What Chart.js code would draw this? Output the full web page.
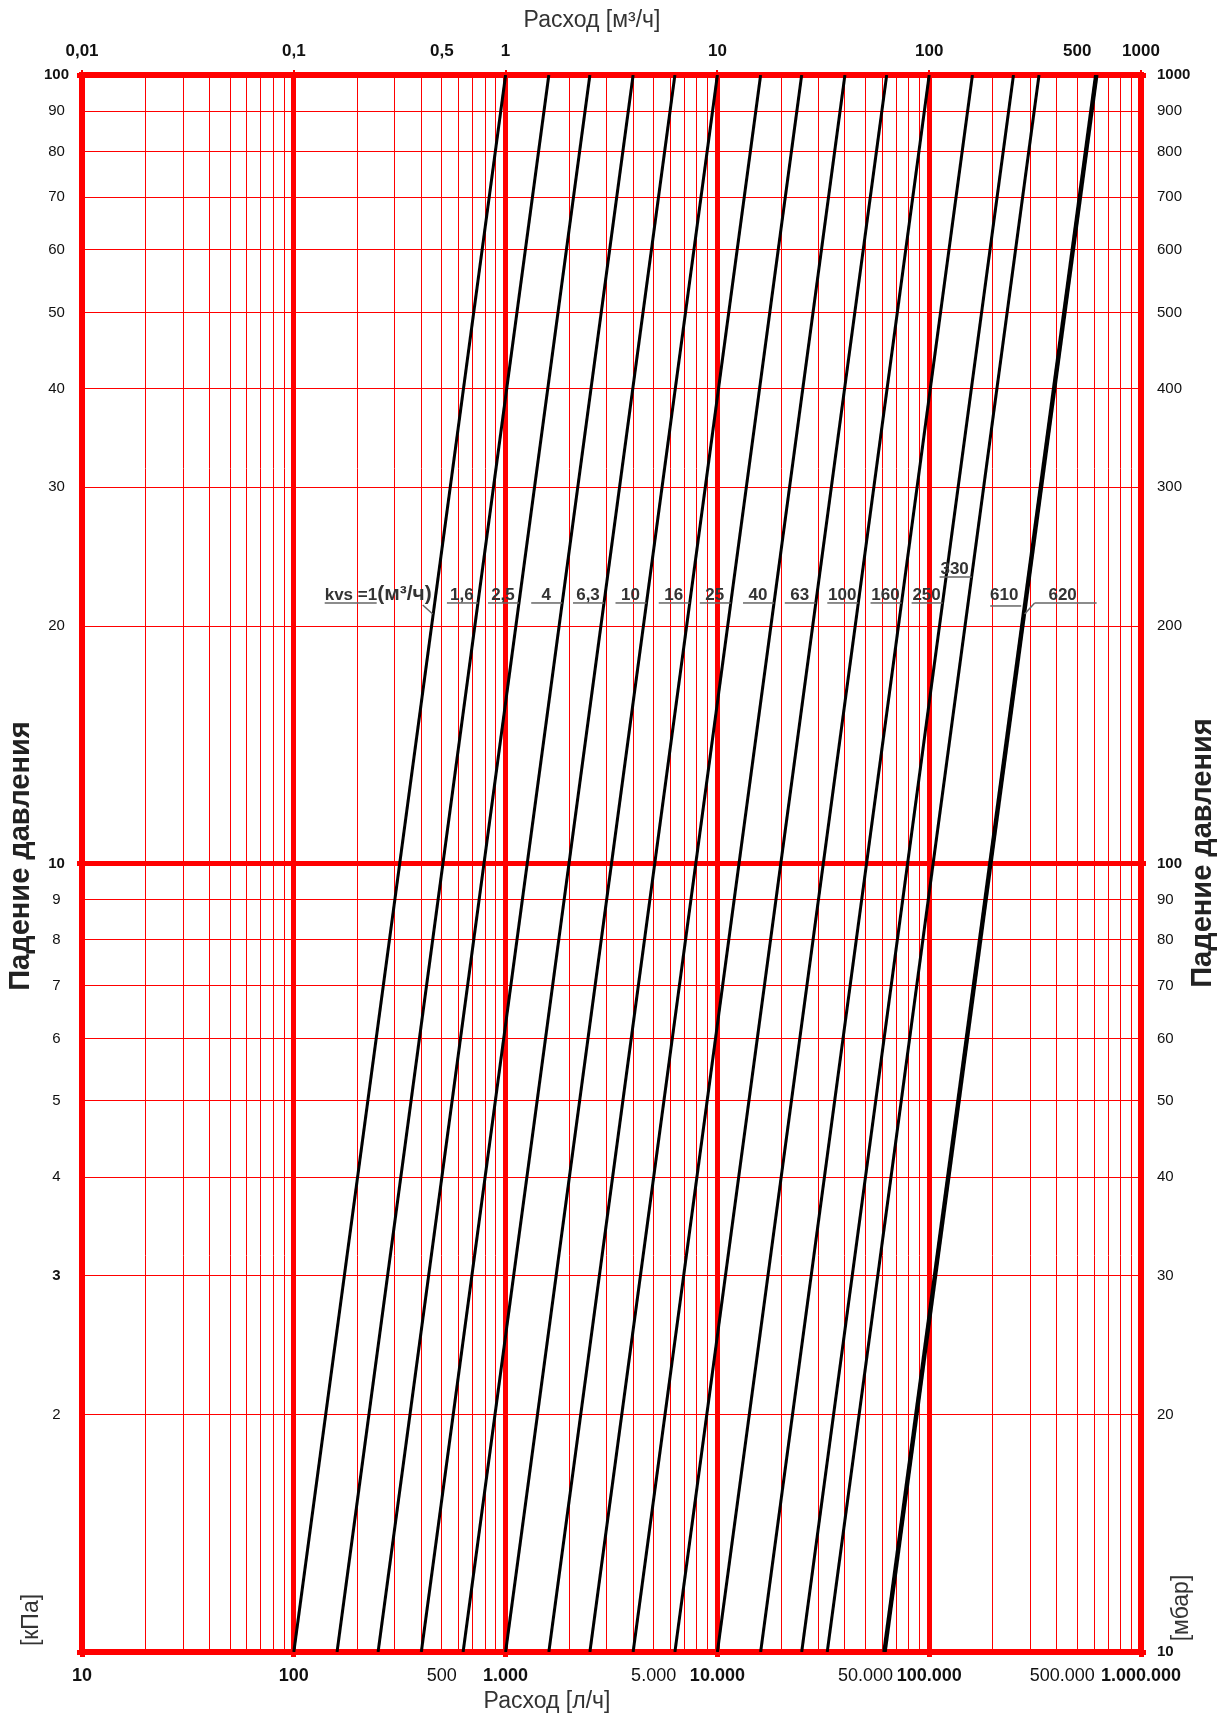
<!DOCTYPE html>
<html>
<head>
<meta charset="utf-8">
<script src="https://cdn.jsdelivr.net/npm/chart.js@4.4.0/dist/chart.umd.min.js"></script>
<style>
    html, body { margin: 0; padding: 0; background: #fff; }
    canvas { display: block; }
</style>
</head>
<body>
<canvas id="myChart" width="1221" height="1718"></canvas>
<script>
// kvs of every curve, m3/h
const kvsNames = ['1', '1,6', '2,5', '4', '6,3', '10', '16', '25', '40', '63', '100', '160', '250', '330', '610', '620'];
// flow in l/h where each curve meets 1 kPa (bottom edge)
const flowAtBottom = [100, 160, 250, 400, 630, 1000, 1600, 2500, 4000, 6300, 10000, 16000, 25000, 33000, 61000, 62000];
// flow in l/h where each curve meets 100 kPa (top edge)
const flowAtTop = [1000, 1600, 2500, 4000, 6300, 10000, 16000, 25000, 40000, 63000, 100000, 160000, 250000, 330000, 610000, 620000];
const dpBottom = 1;
const dpTop = 100;

// tick labels
const bottomValues = [10, 100, 500, 1000, 5000, 10000, 50000, 100000, 500000, 1000000];
const bottomLabels = ['10', '100', '500', '1.000', '5.000', '10.000', '50.000', '100.000', '500.000      ', '1.000.000'];
const topValues = [0.01, 0.1, 0.5, 1, 10, 100, 500, 1000];
const topLabels = ['0,01', '0,1', '0,5', '1', '10', '100', '500', '1000'];
const leftValues = [2, 3, 4, 5, 6, 7, 8, 9, 10, 20, 30, 40, 50, 60, 70, 80, 90, 100];
const leftBold = [3, 10, 100];
const rightValues = [10, 20, 30, 40, 50, 60, 70, 80, 90, 100, 200, 300, 400, 500, 600, 700, 800, 900, 1000];
const rightBold = [10, 100, 1000];

const FONT = '"Liberation Sans", Arial, sans-serif';
const RED = '#ff0000';

function gridValues(from, to) {
    let out = [];
    for (let d = from; d < to; d *= 10) {
        for (let m = 1; m < 10; m++) out.push(Math.round(d * m * 1000) / 1000);
    }
    out.push(to);
    return out;
}
function isDecade(v) {
    let l = Math.log10(v);
    return Math.abs(l - Math.round(l)) < 1e-6;
}
function tickVal(ctx) {
    return ctx.tick ? ctx.tick.value : 0;
}

let datasets = [];
for (let i = 0; i < kvsNames.length; i++) {
    datasets.push({
        label: 'kvs ' + kvsNames[i],
        data: [{x: flowAtBottom[i], y: dpBottom}, {x: flowAtTop[i], y: dpTop}],
        borderColor: '#000',
        borderWidth: 3,
        pointRadius: 0,
        tension: 0
    });
}

const titlesPlugin = {
    id: 'titles',
    afterDraw(chart) {
        const ctx = chart.ctx;
        ctx.save();
        ctx.fillStyle = '#333';
        ctx.textAlign = 'center';
        ctx.textBaseline = 'middle';
        ctx.font = '23px ' + FONT;
        ctx.fillText('Расход [м³/ч]', 592, 21);
        ctx.fillText('Расход [л/ч]', 547, 1702);

        function vText(text, x, y, font, color) {
            ctx.save();
            ctx.translate(x, y);
            ctx.rotate(-Math.PI / 2);
            ctx.font = font;
            ctx.fillStyle = color;
            ctx.fillText(text, 0, 0);
            ctx.restore();
        }
        vText('Падение давления', 21, 856, 'bold 29px ' + FONT, '#222');
        vText('Падение давления', 1203, 853, 'bold 29px ' + FONT, '#222');
        vText('[кПа]', 32, 1620, '23px ' + FONT, '#333');
        vText('[мбар]', 1182, 1608, '23px ' + FONT, '#333');
        ctx.restore();
    }
};

const kvsLabelsPlugin = {
    id: 'kvsLabels',
    afterDatasetsDraw(chart) {
        const ctx = chart.ctx;
        const xs = chart.scales.x, ys = chart.scales.y;
        const yl = ys.getPixelForValue(21.4);
        function crossX(i, py) {
            let x0 = xs.getPixelForValue(flowAtBottom[i]), y0 = ys.getPixelForValue(dpBottom);
            let x1 = xs.getPixelForValue(flowAtTop[i]), y1 = ys.getPixelForValue(dpTop);
            return x0 + (x1 - x0) * (py - y0) / (y1 - y0);
        }
        function line(ax, ay, bx, by) {
            ctx.beginPath();
            ctx.moveTo(ax, ay);
            ctx.lineTo(bx, by);
            ctx.stroke();
        }
        ctx.save();
        ctx.fillStyle = '#333';
        ctx.strokeStyle = '#666';
        ctx.lineWidth = 1.5;
        ctx.textBaseline = 'alphabetic';

        // kvs = 1 with leader line
        let c0 = crossX(0, yl);
        ctx.textAlign = 'right';
        ctx.font = 'bold 21px ' + FONT;
        ctx.fillText('(м³/ч)', c0 - 3, yl - 3);
        let w = ctx.measureText('(м³/ч)').width;
        ctx.font = 'bold 17px ' + FONT;
        ctx.fillText('kvs =1', c0 - 3 - w, yl - 3);
        line(c0 - 110, yl, c0 - 58, yl);
        line(c0 - 12, yl + 2, c0 - 2, yl + 11);

        ctx.textAlign = 'center';
        for (let i = 1; i <= 12; i++) {
            let c = crossX(i, yl);
            ctx.fillText(kvsNames[i], c - 16, yl - 3);
            line(c - 31, yl, c, yl);
        }
        // 330 sits higher
        let y330 = yl - 26;
        let c13 = crossX(13, y330);
        ctx.fillText(kvsNames[13], c13 - 17, y330 - 3);
        line(c13 - 32, y330, c13, y330);
        // 610
        let c14 = crossX(14, yl + 3);
        ctx.fillText(kvsNames[14], c14 - 20, yl - 3);
        line(c14 - 34, yl + 3, c14 - 3, yl + 3);
        // 620 with leader line
        let c15 = crossX(15, yl + 11);
        ctx.fillText(kvsNames[15], c15 + 38, yl - 3);
        line(c15, yl + 11, c15 + 10, yl);
        line(c15 + 10, yl, c15 + 72, yl);
        ctx.restore();
    }
};

const ctx = document.getElementById('myChart').getContext('2d');
const myChart = new Chart(ctx, {
    type: 'line',
    data: { datasets: datasets },
    options: {
        responsive: false,
        animation: false,
        devicePixelRatio: 1,
        layout: { padding: 0 },
        plugins: {
            legend: { display: false },
            tooltip: { enabled: false }
        },
        scales: {
            x: {
                type: 'logarithmic',
                position: 'bottom',
                min: 10,
                max: 1000000,
                afterBuildTicks: s => { s.ticks = gridValues(10, 1000000).map(v => ({value: v})); },
                afterFit: s => { s.height = 66; },
                grid: {
                    color: RED,
                    lineWidth: c => isDecade(tickVal(c)) ? 5 : 1,
                    tickLength: 5,
                    tickColor: c => isDecade(tickVal(c)) ? RED : 'rgba(0,0,0,0)'
                },
                border: { display: true, color: RED, width: 6 },
                ticks: {
                    autoSkip: false,
                    maxRotation: 0,
                    minRotation: 0,
                    padding: 8,
                    color: '#111',
                    callback: v => {
                        let k = bottomValues.indexOf(v);
                        return k >= 0 ? bottomLabels[k] : '';
                    },
                    font: c => ({ family: FONT, size: 18, weight: isDecade(tickVal(c)) ? 'bold' : 'normal' })
                }
            },
            x2: {
                type: 'logarithmic',
                position: 'top',
                min: 0.01,
                max: 1000,
                afterBuildTicks: s => { s.ticks = topValues.map(v => ({value: v})); },
                afterFit: s => { s.height = 75; },
                grid: {
                    drawOnChartArea: false,
                    color: RED,
                    lineWidth: 2,
                    tickLength: 5,
                    tickColor: c => isDecade(tickVal(c)) ? RED : 'rgba(0,0,0,0)'
                },
                border: { display: true, color: RED, width: 6 },
                ticks: {
                    autoSkip: false,
                    maxRotation: 0,
                    minRotation: 0,
                    padding: 8,
                    color: '#111',
                    callback: v => {
                        let k = topValues.indexOf(v);
                        return k >= 0 ? topLabels[k] : '';
                    },
                    font: { family: FONT, size: 17, weight: 'bold' }
                }
            },
            y: {
                type: 'logarithmic',
                position: 'left',
                min: 1,
                max: 100,
                afterBuildTicks: s => { s.ticks = gridValues(1, 100).map(v => ({value: v})); },
                afterFit: s => { s.width = 82; },
                grid: {
                    color: RED,
                    lineWidth: c => isDecade(tickVal(c)) ? 5 : 1,
                    tickLength: 5,
                    tickColor: c => isDecade(tickVal(c)) ? RED : 'rgba(0,0,0,0)'
                },
                border: { display: true, color: RED, width: 6 },
                ticks: {
                    autoSkip: false,
                    crossAlign: 'center',
                    padding: 8,
                    color: '#111',
                    callback: v => leftValues.indexOf(v) >= 0 ? String(v) : '',
                    font: c => ({ family: FONT, size: 15, weight: leftBold.indexOf(tickVal(c)) >= 0 ? 'bold' : 'normal' })
                }
            },
            y2: {
                type: 'logarithmic',
                position: 'right',
                min: 10,
                max: 1000,
                afterBuildTicks: s => { s.ticks = rightValues.map(v => ({value: v})); },
                afterFit: s => { s.width = 80; },
                grid: {
                    drawOnChartArea: false,
                    color: RED,
                    lineWidth: 5,
                    tickLength: 5,
                    tickColor: c => isDecade(tickVal(c)) ? RED : 'rgba(0,0,0,0)'
                },
                border: { display: true, color: RED, width: 6 },
                ticks: {
                    autoSkip: false,
                    padding: 11,
                    color: '#111',
                    callback: v => String(v),
                    font: c => ({ family: FONT, size: 15, weight: rightBold.indexOf(tickVal(c)) >= 0 ? 'bold' : 'normal' })
                }
            }
        }
    },
    plugins: [kvsLabelsPlugin, titlesPlugin]
});
</script>
</body>
</html>
